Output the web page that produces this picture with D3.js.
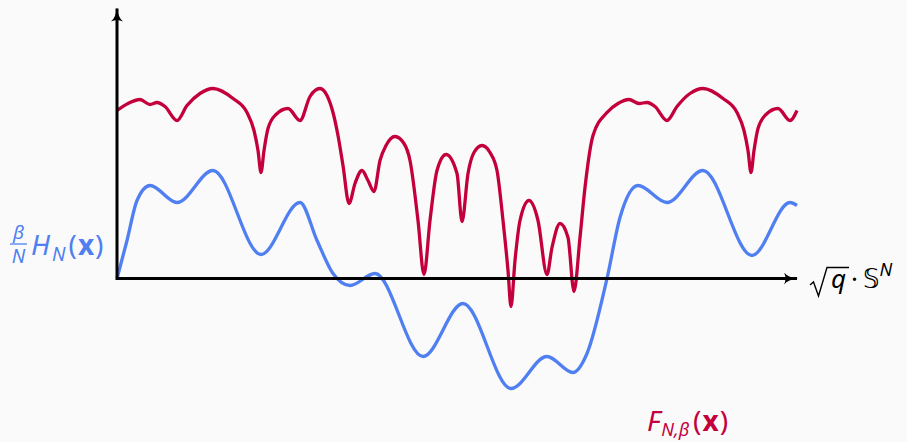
<!DOCTYPE html>
<html>
<head>
<meta charset="utf-8">
<script src="https://cdn.jsdelivr.net/npm/d3@7"></script>
<style>
  html, body { margin: 0; padding: 0; background: #fafafa; }
  svg { display: block; }
</style>
</head>
<body>
<script>
// SVG dimensions
const width = 907, height = 442;

// Curve samples: [position along the axis, height above it]
const hamiltonian = [
  [0, 0], [10, 38], [20, 78], [33, 93], [60, 76], [96, 108], [144, 24], [183, 76],
  [200, 38], [216, 5], [233, -7], [258, 5], [306, -78], [346, -25], [394, -110],
  [430, -78], [456, -94], [470, -75], [490, 0], [503, 61], [521, 93], [550, 76],
  [586, 108], [635, 23], [673, 76], [680, 73]
];

const freeEnergy = [
  [0, 168], [11, 175], [23, 179], [33, 174], [40, 176], [48, 172], [60, 158], [70, 173],
  [83, 185], [96, 190], [116, 180], [130, 166], [137, 148], [141, 128], [144, 106],
  [147, 128], [151, 150], [159, 164], [171, 170], [183, 158], [193, 182], [203, 190],
  [210, 183], [216, 166], [221, 143], [226, 113], [232, 75], [238, 95], [245, 108],
  [251, 98], [257, 87], [263, 118], [269, 133], [278, 142], [287, 135], [293, 118],
  [301, 58], [307, 4], [313, 58], [320, 108], [329, 124], [340, 105], [345, 57],
  [351, 105], [357, 126], [365, 133], [373, 126], [380, 108], [386, 58], [391, 8],
  [394, -28], [398, 18], [403, 58], [412, 78], [421, 58], [430, 4], [435, 31],
  [443, 55], [451, 41], [457, -13], [463, 41], [468, 91], [476, 143], [490, 166],
  [501, 175], [512, 179], [522, 175], [530, 176], [538, 172], [550, 158], [560, 172],
  [573, 185], [586, 190], [606, 180], [620, 166], [627, 148], [631, 128], [634, 106],
  [637, 128], [641, 150], [649, 164], [661, 170], [673, 158], [680, 168]
];

const xDomain = [0, 680];
const yDomain = [0, 270];

const blue = "#4f7ff0", red = "#c4003c";

const svg = d3.select("body")
  .append("svg")
  .attr("width", width)
  .attr("height", height);

svg.append("rect")
  .attr("width", width)
  .attr("height", height)
  .attr("fill", "#fafafa");

// Scales
const x = d3.scaleLinear().domain(xDomain).range([117, 797]);
const y = d3.scaleLinear().domain(yDomain).range([278.5, 8.5]);

// Arrow heads
const defs = svg.append("defs");
defs.append("marker")
  .attr("id", "arrow")
  .attr("viewBox", "0 -6 14 12")
  .attr("refX", 13)
  .attr("refY", 0)
  .attr("markerWidth", 14)
  .attr("markerHeight", 12)
  .attr("markerUnits", "userSpaceOnUse")
  .attr("orient", "auto")
  .append("path")
  .attr("d", "M0,-6 Q4,-1 14,0 Q4,1 0,6 Q3,0 0,-6 Z")
  .attr("fill", "#000");

// Curves
const line = d3.line()
  .x(d => x(d[0]))
  .y(d => y(d[1]))
  .curve(d3.curveMonotoneX);

svg.append("path")
  .datum(freeEnergy)
  .attr("fill", "none")
  .attr("stroke", red)
  .attr("stroke-width", 3.3)
  .attr("stroke-linejoin", "round")
  .attr("d", line);

svg.append("path")
  .datum(hamiltonian)
  .attr("fill", "none")
  .attr("stroke", blue)
  .attr("stroke-width", 3.3)
  .attr("stroke-linejoin", "round")
  .attr("d", line);

// Axes
svg.append("line")
  .attr("x1", x(0)).attr("y1", y(0))
  .attr("x2", x(xDomain[1])).attr("y2", y(0))
  .attr("stroke", "#000")
  .attr("stroke-width", 3)
  .attr("marker-end", "url(#arrow)");

svg.append("line")
  .attr("x1", x(0)).attr("y1", y(0) + 1.5)
  .attr("x2", x(0)).attr("y2", y(yDomain[1]))
  .attr("stroke", "#000")
  .attr("stroke-width", 3)
  .attr("marker-end", "url(#arrow)");

// Labels
const font = "'Noto Sans', 'DejaVu Sans', sans-serif";

// beta / N  H_N(x)
const lb = svg.append("g").attr("fill", blue).style("font-family", font);
lb.append("text").attr("x", 18.5).attr("y", 239).attr("text-anchor", "middle")
  .style("font-size", "19px").style("font-style", "italic").text("β");
lb.append("line").attr("x1", 10).attr("x2", 27).attr("y1", 244).attr("y2", 244)
  .attr("stroke", blue).attr("stroke-width", 1.3);
lb.append("text").attr("x", 18.5).attr("y", 263).attr("text-anchor", "middle")
  .style("font-size", "19px").style("font-style", "italic").text("N");
const hn = lb.append("text").attr("x", 31).attr("y", 255).style("font-size", "28px");
hn.append("tspan").style("font-style", "italic").text("H");
hn.append("tspan").attr("dx", 2).style("font-style", "italic").style("font-size", "19px").attr("dy", 6).text("N");
hn.append("tspan").attr("dx", 3).attr("dy", -6).text("(");
hn.append("tspan").attr("dx", 1).style("font-weight", "bold").text("x");
hn.append("tspan").attr("dx", 1).text(")");

// F_{N,beta}(x)
const fl = svg.append("text").attr("x", 647).attr("y", 431)
  .attr("fill", red).style("font-family", font).style("font-size", "28px");
fl.append("tspan").style("font-style", "italic").text("F");
fl.append("tspan").attr("dx", 1).style("font-style", "italic").style("font-size", "18px").attr("dy", 5).text("N,β");
fl.append("tspan").attr("dx", 4).attr("dy", -5).text("(");
fl.append("tspan").attr("dx", 1).style("font-weight", "bold").text("x");
fl.append("tspan").attr("dx", 1).text(")");

// sqrt(q) . S^N
const ax = svg.append("g").attr("fill", "#000").style("font-family", font);
ax.append("path")
  .attr("d", "M810,285 L813.5,282 L818.5,296 L827,267.5 L849,267.5")
  .attr("fill", "none").attr("stroke", "#000").attr("stroke-width", 1.4)
  .attr("stroke-linejoin", "miter");
const sq = ax.append("text").attr("x", 831).attr("y", 288).style("font-size", "26px");
sq.append("tspan").style("font-style", "italic").text("q");
sq.append("tspan").attr("dx", 5).text("·");
sq.append("tspan").attr("dx", 5).style("font-family", "'DejaVu Sans', sans-serif").style("font-size", "26px").text("𝕊");
sq.append("tspan").attr("dy", -12).style("font-style", "italic").style("font-size", "18px").text("N");
</script>
</body>
</html>
